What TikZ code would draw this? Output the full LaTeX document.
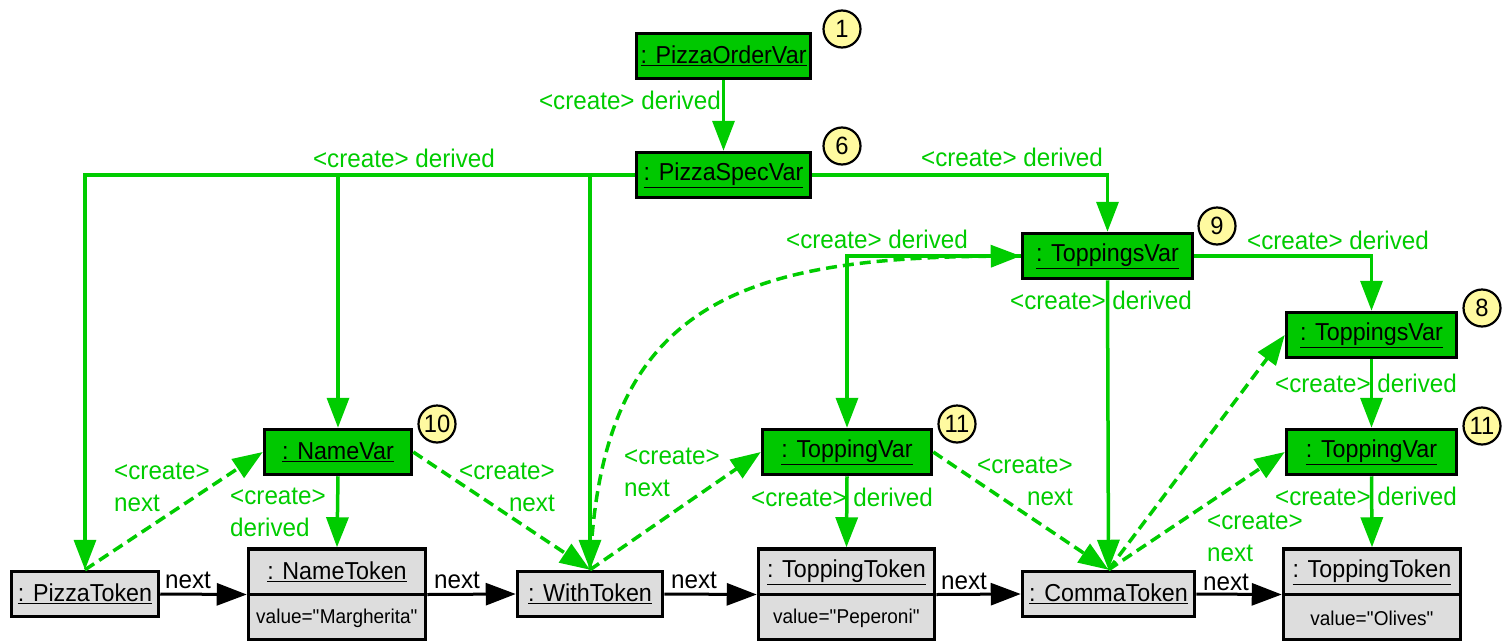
\documentclass[tikz,border=0pt]{standalone}
\usepackage{fontspec}
\setmainfont{Liberation Sans}[FakeStretch=0.95]
\usetikzlibrary{arrows.meta}
\definecolor{varfill}{RGB}{0,200,0}
\definecolor{linkgreen}{RGB}{0,204,0}
\definecolor{tokfill}{RGB}{221,221,221}
\definecolor{badgefill}{RGB}{255,250,160}
\newcommand{\qt}{\textquotedbl}
\tikzset{
  varbox/.style={draw=black, line width=3.5pt, fill=varfill, minimum height=45pt,
    inner sep=0pt, font=\fontsize{24.5}{28}\selectfont},
  tokbox/.style={draw=black, line width=3.5pt, fill=tokfill, minimum height=45pt,
    inner sep=0pt, font=\fontsize{24.5}{28}\selectfont},
  tokhead/.style={inner sep=0pt, font=\fontsize{24.5}{28}\selectfont},
  tokval/.style={inner sep=0pt, font=\fontsize{20}{22}\selectfont},
  badge/.style={circle, draw=black, line width=2.2pt, fill=badgefill, minimum size=37pt,
    inner sep=0pt, font=\fontsize{25}{26}\selectfont},
  derive/.style={draw=linkgreen, line width=3.5pt,
    -{Triangle[length=30pt,width=22pt]}, fill=none},
  nextlink/.style={derive, dash pattern=on 11pt off 6pt},
  tokarrow/.style={draw=black, line width=3pt, -{Triangle[length=30pt,width=22pt]}},
  glabel/.style={text=linkgreen, inner sep=0pt, font=\fontsize{25.5}{32}\selectfont},
  blabel/.style={text=black, inner sep=0pt, font=\fontsize{25.5}{28}\selectfont},
}
\begin{document}
\begin{tikzpicture}[x=1pt,y=-1pt]
\useasboundingbox (0,0) rectangle (1504,640);
\clip (0,0) rectangle (1504,640);

% variable objects
\node[varbox, minimum width=174pt] (orderVar) at (723.5,56) {\underline{: PizzaOrderVar}};
\node[varbox, minimum width=174pt] (specVar) at (723.5,175) {\underline{: PizzaSpecVar}};
\node[varbox, minimum width=170pt] (toppingsA) at (1107.5,256) {\underline{: ToppingsVar}};
\node[varbox, minimum width=170pt] (toppingsB) at (1371.5,335) {\underline{: ToppingsVar}};
\node[varbox, minimum width=147pt] (nameVar) at (338,452) {\underline{: NameVar}};
\node[varbox, minimum width=169pt] (toppingA) at (847,452) {\underline{: ToppingVar}};
\node[varbox, minimum width=170pt] (toppingB) at (1371.5,452) {\underline{: ToppingVar}};

% token objects
\node[tokbox, minimum width=147pt] (pizzaTok) at (85,594) {\underline{: PizzaToken}};
\node[tokbox, minimum width=145pt] (withTok) at (590,594) {\underline{: WithToken}};
\node[tokbox, minimum width=172pt] (commaTok) at (1108.5,594) {\underline{: CommaToken}};

\node[tokbox, minimum width=177pt, minimum height=91pt] (nameTok) at (337,594.5) {};
\draw[line width=3.5pt] (nameTok.west) -- (nameTok.east);
\node[tokhead] (nameTokH) at (337,572) {\underline{: NameToken}};
\node[tokval] (nameTokV) at (337,618) {value=\qt Margherita\qt};

\node[tokbox, minimum width=176pt, minimum height=91pt] (topTokA) at (846.5,594.5) {};
\draw[line width=3.5pt] (topTokA.west) -- (topTokA.east);
\node[tokhead] (topTokAH) at (846.5,572) {\underline{: ToppingToken}};
\node[tokval] (topTokAV) at (846.5,618) {value=\qt Peperoni\qt};

\node[tokbox, minimum width=177pt, minimum height=91pt] (topTokB) at (1372,594.5) {};
\draw[line width=3.5pt] (topTokB.west) -- (topTokB.east);
\node[tokhead] (topTokBH) at (1372,572) {\underline{: ToppingToken}};
\node[tokval] (topTokBV) at (1372,618) {value=\qt Olives\qt};

% step numbers
\node[badge] (b1) at (842,29) {1};
\node[badge] (b6) at (842,146) {6};
\node[badge] (b9) at (1217,226) {9};
\node[badge] (b8) at (1482,308) {8};
\node[badge] (b10) at (437,424) {10};
\node[badge] (b11a) at (957,424) {11};
\node[badge] (b11b) at (1482,426) {11};

% derived links
\draw[derive] (orderVar.south) -- (specVar.north);
\draw[derive] (specVar.west) -| (pizzaTok.north);
\draw[derive] (specVar.west) -| (nameVar.north);
\draw[derive] (specVar.west) -| (withTok.north);
\draw[derive] (specVar.east) -| (toppingsA.north);
\draw[derive] (toppingsA.west) -| (toppingA.north);
\draw[derive] (toppingsA.east) -| (toppingsB.north);
\draw[derive] (toppingsA.south) -- (commaTok.north);
\draw[derive] (toppingsB.south) -- (toppingB.north);
\draw[derive] (nameVar.south) -- (nameTok.north);
\draw[derive] (toppingA.south) -- (topTokA.north);
\draw[derive] (toppingB.south) -- (topTokB.north);

% next links to be created
\draw[nextlink] (pizzaTok.north) -- (nameVar.west);
\draw[nextlink] (nameVar.east) -- (withTok.north);
\draw[nextlink] (withTok.north) -- (toppingA.west);
\draw[nextlink] (withTok.north) .. controls (600,310) and (730,258) .. (toppingsA.west);
\draw[nextlink] (toppingA.east) -- (commaTok.north);
\draw[nextlink] (commaTok.north) -- (toppingsB.west);
\draw[nextlink] (commaTok.north) -- (toppingB.west);

% existing token chain
\draw[tokarrow] (pizzaTok.east) -- (nameTok.west);
\draw[tokarrow] (nameTok.east) -- (withTok.west);
\draw[tokarrow] (withTok.east) -- (topTokA.west);
\draw[tokarrow] (topTokA.east) -- (commaTok.west);
\draw[tokarrow] (commaTok.east) -- (topTokB.west);

% labels of the derived links
\node[glabel, anchor=east] (l1) at (721,100) {<create> derived};
\node[glabel] (l2) at (404,158) {<create> derived};
\node[glabel] (l3) at (1012,157) {<create> derived};
\node[glabel] (l4) at (877,239) {<create> derived};
\node[glabel] (l5) at (1338,240) {<create> derived};
\node[glabel] (l6) at (1101,300) {<create> derived};
\node[glabel] (l7) at (1366,383) {<create> derived};
\node[glabel, align=left] (l8) at (278,512) {<create>\\derived};
\node[glabel] (l9) at (842,497) {<create> derived};
\node[glabel] (l10) at (1366,496) {<create> derived};

% labels of the next links
\node[glabel, align=left] (n1) at (162,487) {<create>\\next};
\node[glabel, align=right] (n2) at (507,487) {<create>\\next};
\node[glabel, align=left] (n3) at (672,472) {<create>\\next};
\node[glabel, align=right] (n4) at (1025,481) {<create>\\next};
\node[glabel, align=left] (n5) at (1255,537) {<create>\\next};

% labels of the token chain
\node[blabel] (t1) at (188,580) {next};
\node[blabel] (t2) at (457,580) {next};
\node[blabel] (t3) at (694,580) {next};
\node[blabel] (t4) at (964,581) {next};
\node[blabel] (t5) at (1226,582) {next};
\end{tikzpicture}
\end{document}
